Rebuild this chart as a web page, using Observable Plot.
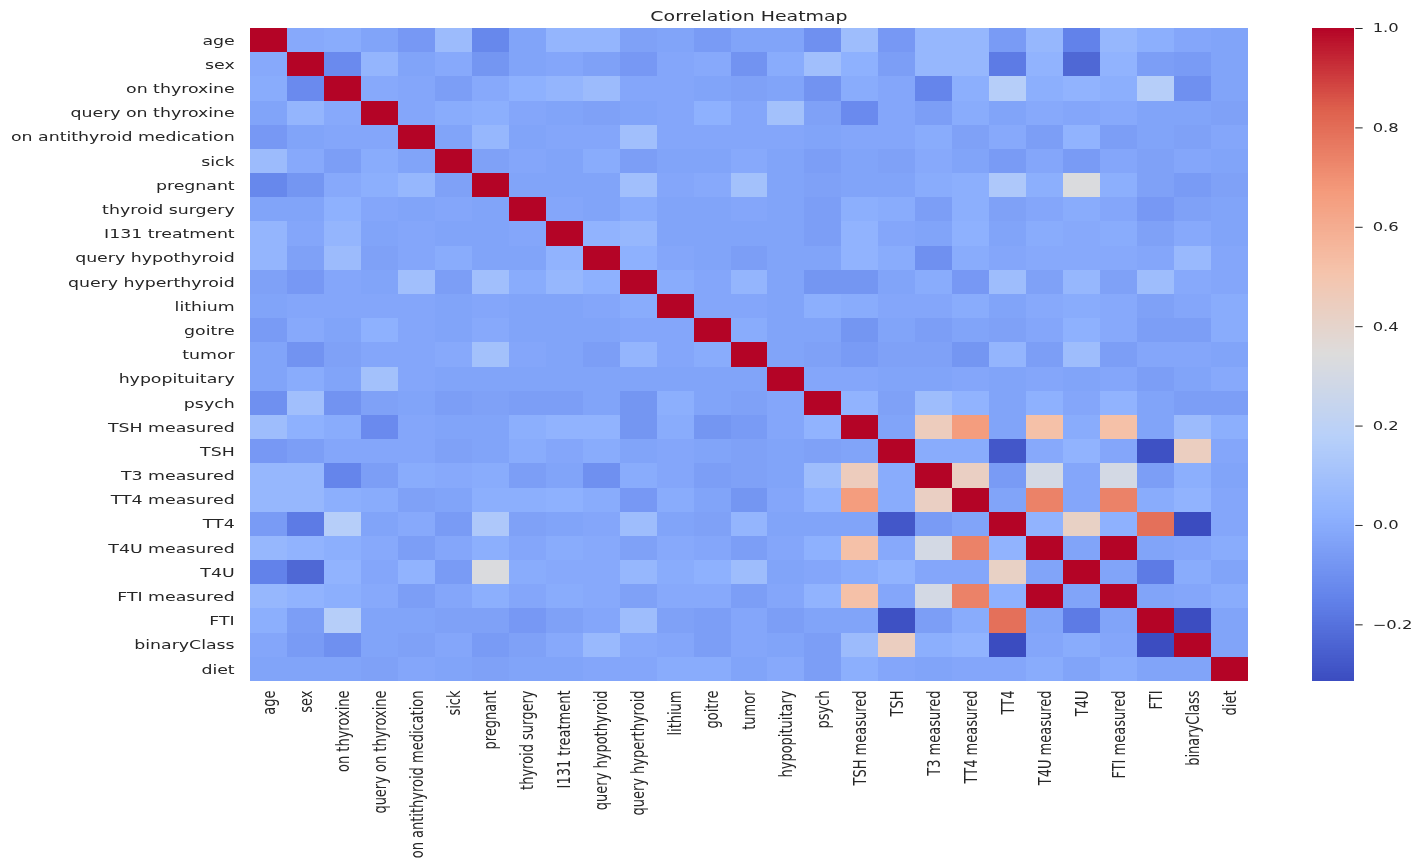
<!DOCTYPE html>
<html>
<head>
<meta charset="utf-8">
<script src="https://cdn.jsdelivr.net/npm/d3@7"></script>
<script src="https://cdn.jsdelivr.net/npm/@observablehq/plot@0.6"></script>
<style>
  html, body { margin: 0; padding: 0; background: #fff; overflow: hidden; }
  #stage { position: relative; width: 1069px; height: 862px; transform: scaleX(1.3333); transform-origin: 0 0; font-family: "DejaVu Sans", sans-serif; color: #262626; }
  #title { position: absolute; top: 8px; left: 187.5px; width: 748.5px; text-align: center; font-size: 14.2px; }
  #main { position: absolute; left: 0; top: 0; }
  #cbar { position: absolute; left: 984px; top: 0; }
</style>
</head>
<body>
<div id="stage">
  <div id="title">Correlation Heatmap</div>
  <div id="main"></div>
  <div id="cbar"></div>
</div>
<script>
const labels = ["age", "sex", "on thyroxine", "query on thyroxine", "on antithyroid medication", "sick", "pregnant", "thyroid surgery", "I131 treatment", "query hypothyroid", "query hyperthyroid", "lithium", "goitre", "tumor", "hypopituitary", "psych", "TSH measured", "TSH", "T3 measured", "TT4 measured", "TT4", "T4U measured", "T4U", "FTI measured", "FTI", "binaryClass", "diet"];

const corr = [
  [1, -0.01, 0.0, -0.03, -0.07, 0.07, -0.13, -0.03, 0.04, 0.04, -0.04, -0.03, -0.06, -0.03, -0.03, -0.10, 0.08, -0.07, 0.05, 0.05, -0.06, 0.05, -0.15, 0.05, 0.01, -0.02, -0.03],
  [-0.01, 1, -0.12, 0.04, -0.03, -0.01, -0.08, -0.03, -0.02, -0.04, -0.07, -0.02, -0.01, -0.09, 0.0, 0.09, 0.02, -0.05, 0.05, 0.05, -0.17, 0.03, -0.23, 0.03, -0.05, -0.06, -0.03],
  [0.0, -0.12, 1, -0.01, -0.02, -0.05, -0.01, 0.02, 0.04, 0.07, -0.02, -0.02, -0.03, -0.04, -0.03, -0.09, 0.0, -0.02, -0.14, 0.01, 0.17, 0.01, 0.03, 0.01, 0.17, -0.10, -0.03],
  [-0.03, 0.04, -0.01, 1, -0.02, 0.0, 0.01, -0.02, -0.03, -0.04, -0.03, -0.02, 0.02, -0.02, 0.10, -0.04, -0.12, -0.02, -0.05, 0.0, -0.03, -0.01, -0.02, -0.01, -0.03, -0.03, -0.04],
  [-0.07, -0.03, -0.02, -0.02, 1, -0.03, 0.05, -0.03, -0.02, -0.02, 0.09, -0.02, -0.02, -0.02, -0.02, -0.03, -0.02, -0.02, 0.0, -0.04, -0.01, -0.05, 0.03, -0.05, -0.03, -0.04, -0.02],
  [0.07, -0.01, -0.05, 0.0, -0.03, 1, -0.04, -0.02, -0.03, 0.0, -0.05, -0.03, -0.03, -0.01, -0.03, -0.05, -0.03, -0.04, -0.01, -0.03, -0.06, -0.02, -0.06, -0.02, -0.04, -0.02, -0.03],
  [-0.13, -0.08, -0.01, 0.01, 0.05, -0.04, 1, -0.03, -0.03, -0.03, 0.09, -0.02, -0.01, 0.10, -0.03, -0.04, -0.03, -0.03, 0.0, 0.01, 0.14, 0.01, 0.33, 0.01, -0.04, -0.06, -0.04],
  [-0.03, -0.03, 0.02, -0.02, -0.03, -0.02, -0.03, 1, -0.02, -0.03, 0.0, -0.03, -0.03, -0.02, -0.03, -0.05, 0.01, 0.0, -0.05, 0.01, -0.04, -0.02, 0.0, -0.02, -0.07, -0.04, -0.03],
  [0.04, -0.02, 0.04, -0.03, -0.02, -0.03, -0.03, -0.02, 1, 0.03, 0.05, -0.03, -0.03, -0.03, -0.03, -0.05, 0.03, -0.02, -0.03, 0.02, -0.03, 0.0, -0.01, 0.0, -0.04, -0.01, -0.03],
  [0.04, -0.04, 0.07, -0.04, -0.02, 0.0, -0.03, -0.03, 0.03, 1, 0.02, -0.02, -0.03, -0.05, -0.03, -0.03, 0.03, 0.0, -0.10, 0.0, -0.02, -0.01, -0.01, -0.01, -0.02, 0.06, -0.02],
  [-0.04, -0.07, -0.02, -0.03, 0.09, -0.05, 0.09, 0.0, 0.05, 0.02, 1, 0.0, -0.02, 0.04, -0.03, -0.08, -0.08, -0.03, 0.0, -0.07, 0.08, -0.04, 0.05, -0.04, 0.08, -0.01, -0.02],
  [-0.03, -0.02, -0.02, -0.02, -0.02, -0.03, -0.02, -0.03, -0.03, -0.02, 0.0, 1, -0.02, -0.02, -0.03, 0.01, 0.0, -0.02, -0.02, 0.0, -0.03, -0.01, 0.0, -0.01, -0.04, -0.02, 0.0],
  [-0.06, -0.01, -0.03, 0.02, -0.02, -0.03, -0.01, -0.03, -0.03, -0.03, -0.02, -0.02, 1, 0.0, -0.03, -0.03, -0.08, -0.03, -0.05, -0.03, -0.04, -0.02, 0.02, -0.01, -0.05, -0.05, 0.0],
  [-0.03, -0.09, -0.04, -0.02, -0.02, -0.01, 0.10, -0.02, -0.03, -0.05, 0.04, -0.02, 0.0, 1, -0.03, -0.04, -0.06, -0.04, -0.04, -0.08, 0.04, -0.05, 0.08, -0.05, -0.02, -0.02, -0.03],
  [-0.03, 0.0, -0.03, 0.10, -0.02, -0.03, -0.03, -0.03, -0.03, -0.03, -0.03, -0.03, -0.03, -0.03, 1, -0.02, -0.02, -0.03, -0.03, -0.02, -0.03, -0.02, -0.03, -0.02, -0.05, -0.03, -0.01],
  [-0.10, 0.09, -0.09, -0.04, -0.03, -0.05, -0.04, -0.05, -0.05, -0.03, -0.08, 0.01, -0.03, -0.04, -0.02, 1, 0.03, -0.04, 0.08, 0.03, -0.03, 0.02, -0.02, 0.03, -0.03, -0.05, -0.05],
  [0.08, 0.02, 0.0, -0.12, -0.02, -0.03, -0.03, 0.01, 0.03, 0.03, -0.08, 0.0, -0.08, -0.06, -0.02, 0.03, 1, -0.03, 0.45, 0.66, -0.03, 0.52, 0.0, 0.52, -0.03, 0.07, 0.01],
  [-0.07, -0.05, -0.02, -0.02, -0.02, -0.04, -0.03, 0.0, -0.02, 0.0, -0.03, -0.02, -0.03, -0.04, -0.03, -0.04, -0.03, 1, 0.0, 0.0, -0.28, -0.01, 0.03, -0.02, -0.30, 0.44, -0.02],
  [0.05, 0.05, -0.14, -0.05, 0.0, -0.01, 0.0, -0.05, -0.03, -0.10, 0.0, -0.02, -0.05, -0.04, -0.03, 0.08, 0.45, 0.0, 1, 0.43, -0.06, 0.30, -0.02, 0.30, -0.05, 0.01, -0.03],
  [0.05, 0.05, 0.01, 0.0, -0.04, -0.03, 0.01, 0.01, 0.02, 0.0, -0.07, 0.0, -0.03, -0.08, -0.02, 0.03, 0.66, 0.0, 0.43, 1, -0.03, 0.74, -0.02, 0.74, 0.0, 0.03, -0.02],
  [-0.06, -0.17, 0.17, -0.03, -0.01, -0.06, 0.14, -0.04, -0.03, -0.02, 0.08, -0.03, -0.04, 0.04, -0.03, -0.03, -0.03, -0.28, -0.06, -0.03, 1, 0.03, 0.42, 0.02, 0.79, -0.314, -0.02],
  [0.05, 0.03, 0.01, -0.01, -0.05, -0.02, 0.01, -0.02, 0.0, -0.01, -0.04, -0.01, -0.02, -0.05, -0.02, 0.02, 0.52, -0.01, 0.30, 0.74, 0.03, 1, -0.03, 1.0, -0.03, -0.02, 0.0],
  [-0.15, -0.23, 0.03, -0.02, 0.03, -0.06, 0.33, 0.0, -0.01, -0.01, 0.05, 0.0, 0.02, 0.08, -0.03, -0.02, 0.0, 0.03, -0.02, -0.02, 0.42, -0.03, 1, -0.03, -0.17, 0.0, -0.03],
  [0.05, 0.03, 0.01, -0.01, -0.05, -0.02, 0.01, -0.02, 0.0, -0.01, -0.04, -0.01, -0.01, -0.05, -0.02, 0.03, 0.52, -0.02, 0.30, 0.74, 0.02, 1.0, -0.03, 1, -0.03, -0.02, 0.0],
  [0.01, -0.05, 0.17, -0.03, -0.03, -0.04, -0.04, -0.07, -0.04, -0.02, 0.08, -0.04, -0.05, -0.02, -0.05, -0.03, -0.03, -0.30, -0.05, 0.0, 0.79, -0.03, -0.17, -0.03, 1, -0.31, -0.03],
  [-0.02, -0.06, -0.10, -0.03, -0.04, -0.02, -0.06, -0.04, -0.01, 0.06, -0.01, -0.02, -0.05, -0.02, -0.03, -0.05, 0.07, 0.44, 0.01, 0.03, -0.314, -0.02, 0.0, -0.02, -0.31, 1, -0.03],
  [-0.03, -0.03, -0.03, -0.04, -0.02, -0.03, -0.04, -0.03, -0.03, -0.02, -0.02, 0.0, 0.0, -0.03, -0.01, -0.05, 0.01, -0.02, -0.03, -0.02, -0.02, 0.0, -0.03, 0.0, -0.03, -0.03, 1]
];

const colorbarTicks = [-0.2, 0.0, 0.2, 0.4, 0.6, 0.8, 1.0];

// matplotlib "coolwarm" anchor colours
const coolwarmStops = ["#3b4cc0", "#6282ea", "#8db0fe", "#b8d0f9", "#dddcdc", "#f5c4ac", "#f49a7b", "#de604d", "#b40426"];
const coolwarm = d3.piecewise(d3.interpolateRgb, coolwarmStops);

const table = [];
labels.forEach((r, i) => labels.forEach((c, j) => table.push({row: r, col: c, value: corr[i][j]})));
const vmin = d3.min(table, d => d.value);
const vmax = d3.max(table, d => d.value);

const font = {fontFamily: "DejaVu Sans, sans-serif", fontSize: "13px", color: "#262626", background: "transparent", overflow: "visible"};

const main = Plot.plot({
  width: 950, height: 862,
  marginLeft: 187.5, marginRight: 14, marginTop: 28, marginBottom: 181,
  style: font,
  x: {domain: labels, padding: 0, round: false, label: null, tickSize: 0, tickPadding: 9, tickRotate: -90},
  y: {domain: labels, padding: 0, round: false, label: null, tickSize: 0, tickPadding: 12},
  color: {type: "linear", domain: [vmin, vmax], interpolate: coolwarm},
  marks: [
    Plot.cell(table, {x: "col", y: "row", fill: "value", inset: 0, shapeRendering: "crispEdges"})
  ]
});
document.getElementById("main").appendChild(main);

// colour bar
const steps = d3.range(256).map(k => {
  const a = vmin + (vmax - vmin) * k / 256, b = vmin + (vmax - vmin) * (k + 1) / 256;
  return {y1: a, y2: b, v: (a + b) / 2};
});
const cbar = Plot.plot({
  width: 80, height: 862,
  marginLeft: 0, marginRight: 48.5, marginTop: 28, marginBottom: 181,
  style: {...font, fontSize: "12.3px"},
  x: {domain: [0, 1], axis: null},
  y: {domain: [vmin, vmax], axis: "right", ticks: colorbarTicks, tickFormat: d3.format(".1f"), tickSize: 5.5, tickPadding: 8, label: null},
  color: {type: "linear", domain: [vmin, vmax], interpolate: coolwarm},
  marks: [
    Plot.rect(steps, {x1: 0, x2: 1, y1: "y1", y2: "y2", fill: "v", shapeRendering: "crispEdges"})
  ]
});
document.getElementById("cbar").appendChild(cbar);
</script>
</body>
</html>
